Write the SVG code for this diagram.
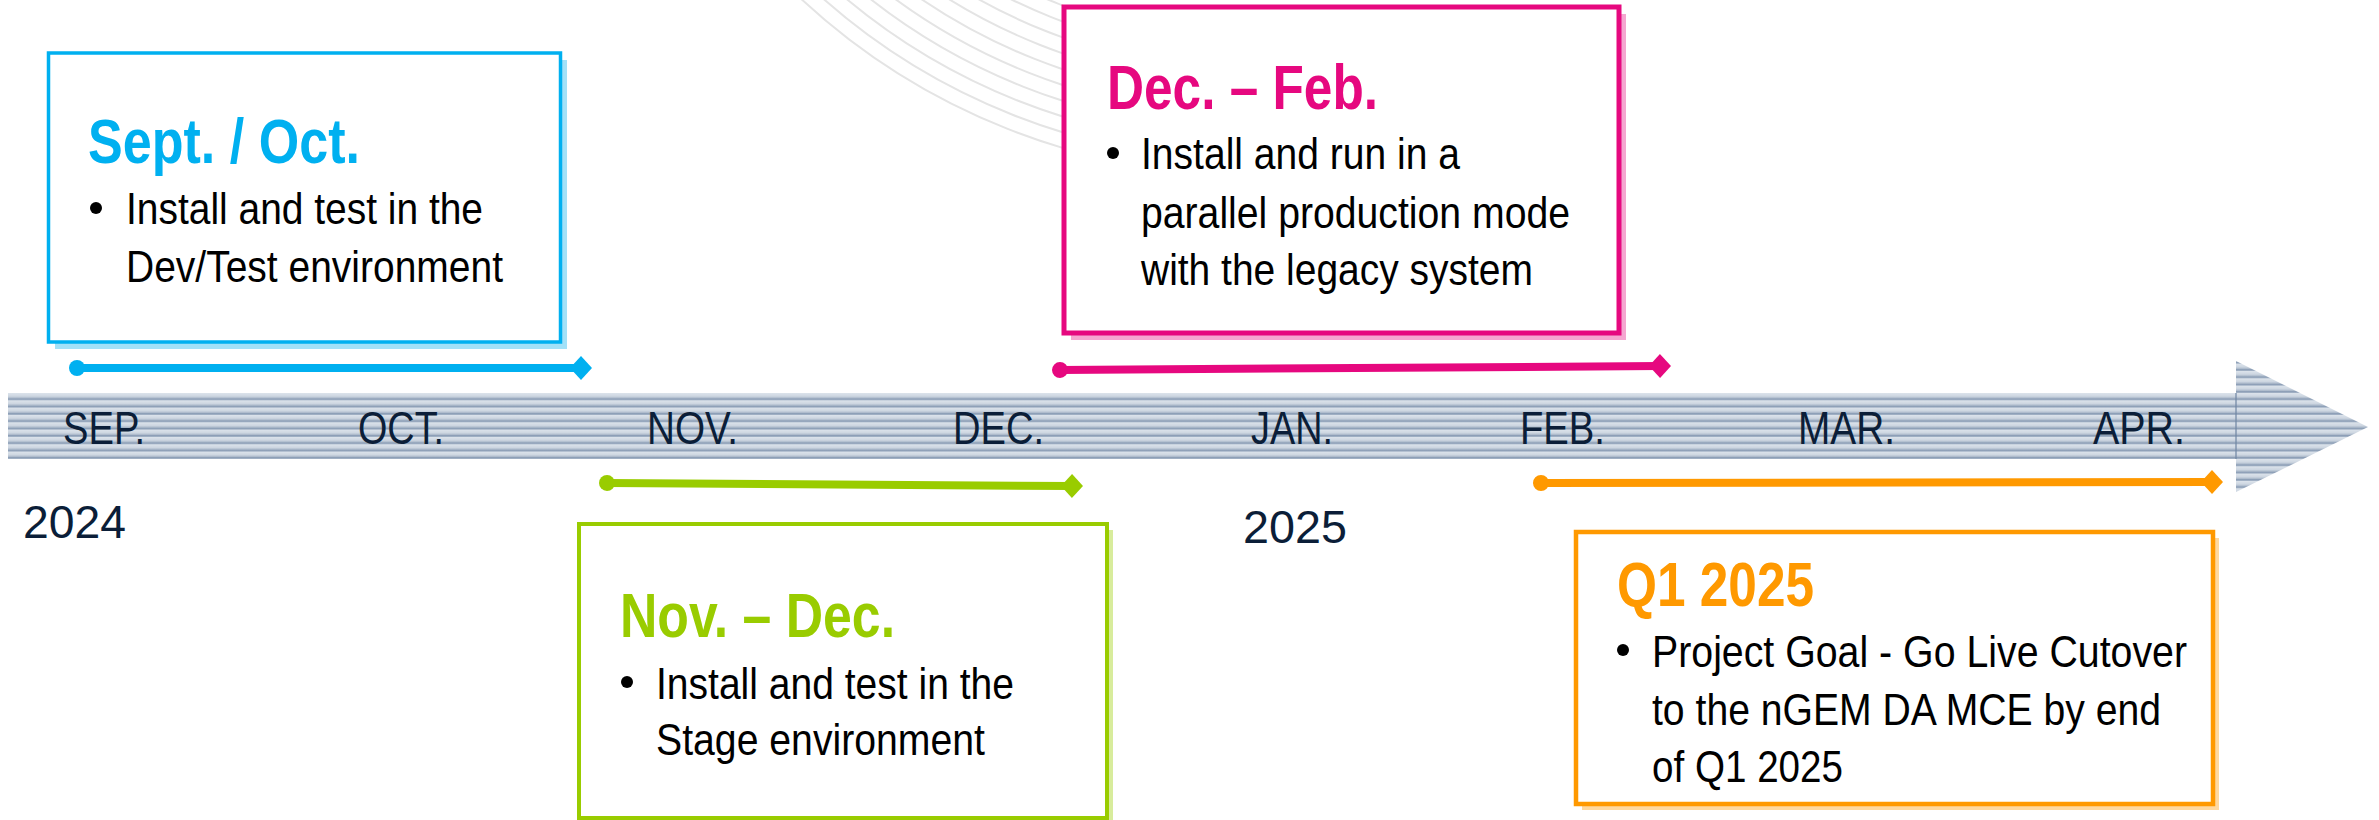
<svg xmlns="http://www.w3.org/2000/svg" width="2379" height="820" viewBox="0 0 2379 820">
<style>
  .title { font-family: "Liberation Sans", Arial, sans-serif; font-weight: bold; font-size: 63px; }
  .body { font-family: "Liberation Sans", Arial, sans-serif; font-size: 44px; fill: #000000; }
  .month { font-family: "Liberation Sans", Arial, sans-serif; font-size: 47px; fill: #0B1E38; }
  .year { font-family: "Liberation Sans", Arial, sans-serif; font-size: 47px; fill: #0B1E38; }
  .arc { fill: none; stroke: #E4E4E4; stroke-width: 2; }
  .range { fill: none; stroke-width: 8; }
</style>
<defs>
  <pattern id="stripes" patternUnits="userSpaceOnUse" x="0" y="393" width="20" height="7.33">
    <rect x="0" y="0" width="20" height="7.33" fill="url(#stripeGrad)"/>
  </pattern>
  <linearGradient id="stripeGrad" x1="0" y1="0" x2="0" y2="1">
    <stop offset="0" stop-color="#DCE3EB"/>
    <stop offset="0.45" stop-color="#CDD6E1"/>
    <stop offset="0.7" stop-color="#A9B7C9"/>
    <stop offset="0.85" stop-color="#7F93AE"/>
    <stop offset="1" stop-color="#B8C4D3"/>
  </linearGradient>
  <clipPath id="arcClip"><rect x="780" y="0" width="283" height="170"/></clipPath>
  <marker id="dotBlue" markerUnits="userSpaceOnUse" markerWidth="18" markerHeight="18" viewBox="-9 -9 18 18" refX="0" refY="0" orient="auto"><circle r="8" fill="#00B0F0"/></marker>
  <marker id="diaBlue" markerUnits="userSpaceOnUse" markerWidth="24" markerHeight="26" viewBox="-12 -13 24 26" refX="0" refY="0" orient="auto"><path d="M-11,0 L0,-12 L11,0 L0,12 Z" fill="#00B0F0"/></marker>
  <marker id="dotGreen" markerUnits="userSpaceOnUse" markerWidth="18" markerHeight="18" viewBox="-9 -9 18 18" refX="0" refY="0" orient="auto"><circle r="8" fill="#99CC00"/></marker>
  <marker id="diaGreen" markerUnits="userSpaceOnUse" markerWidth="24" markerHeight="26" viewBox="-12 -13 24 26" refX="0" refY="0" orient="auto"><path d="M-11,0 L0,-12 L11,0 L0,12 Z" fill="#99CC00"/></marker>
  <marker id="dotPink" markerUnits="userSpaceOnUse" markerWidth="18" markerHeight="18" viewBox="-9 -9 18 18" refX="0" refY="0" orient="auto"><circle r="8" fill="#E6087F"/></marker>
  <marker id="diaPink" markerUnits="userSpaceOnUse" markerWidth="24" markerHeight="26" viewBox="-12 -13 24 26" refX="0" refY="0" orient="auto"><path d="M-11,0 L0,-12 L11,0 L0,12 Z" fill="#E6087F"/></marker>
  <marker id="dotOrange" markerUnits="userSpaceOnUse" markerWidth="18" markerHeight="18" viewBox="-9 -9 18 18" refX="0" refY="0" orient="auto"><circle r="8" fill="#FF9900"/></marker>
  <marker id="diaOrange" markerUnits="userSpaceOnUse" markerWidth="24" markerHeight="26" viewBox="-12 -13 24 26" refX="0" refY="0" orient="auto"><path d="M-11,0 L0,-12 L11,0 L0,12 Z" fill="#FF9900"/></marker>
</defs>

<rect x="0" y="0" width="2379" height="820" fill="#FFFFFF"/>

<g id="background-arcs" clip-path="url(#arcClip)">
  <circle class="arc" cx="1250" cy="-485" r="660"/>
  <circle class="arc" cx="1250" cy="-485" r="645"/>
  <circle class="arc" cx="1250" cy="-485" r="630"/>
  <circle class="arc" cx="1250" cy="-485" r="615"/>
  <circle class="arc" cx="1250" cy="-485" r="600"/>
  <circle class="arc" cx="1250" cy="-485" r="585"/>
  <circle class="arc" cx="1250" cy="-485" r="570"/>
  <circle class="arc" cx="1250" cy="-485" r="555"/>
  <circle class="arc" cx="1250" cy="-485" r="540"/>
  <circle class="arc" cx="1250" cy="-485" r="525"/>
</g>

<g id="timeline-band">
  <rect x="8" y="393" width="2228" height="66" fill="url(#stripes)"/>
  <polygon points="2236,361 2368,427 2236,492" fill="url(#stripes)"/>
  <line x1="2236" y1="393" x2="2236" y2="459" stroke="#6F86A3" stroke-width="1.5" opacity="0.8"/>
</g>

<g id="months">
  <text class="month" x="63" y="444" textLength="82" lengthAdjust="spacingAndGlyphs">SEP.</text>
  <text class="month" x="358" y="444" textLength="86" lengthAdjust="spacingAndGlyphs">OCT.</text>
  <text class="month" x="647" y="444" textLength="91" lengthAdjust="spacingAndGlyphs">NOV.</text>
  <text class="month" x="953" y="444" textLength="91" lengthAdjust="spacingAndGlyphs">DEC.</text>
  <text class="month" x="1251" y="444" textLength="82" lengthAdjust="spacingAndGlyphs">JAN.</text>
  <text class="month" x="1520" y="444" textLength="85" lengthAdjust="spacingAndGlyphs">FEB.</text>
  <text class="month" x="1798" y="444" textLength="97" lengthAdjust="spacingAndGlyphs">MAR.</text>
  <text class="month" x="2093" y="444" textLength="92" lengthAdjust="spacingAndGlyphs">APR.</text>
</g>

<g id="years">
  <text class="year" x="23" y="538" textLength="103" lengthAdjust="spacingAndGlyphs">2024</text>
  <text class="year" x="1243" y="543" textLength="104" lengthAdjust="spacingAndGlyphs">2025</text>
</g>

<g id="connectors">
  <line class="range" x1="77" y1="368" x2="581" y2="368" stroke="#00B0F0" marker-start="url(#dotBlue)" marker-end="url(#diaBlue)"/>
  <line class="range" x1="607" y1="483" x2="1072" y2="486" stroke="#99CC00" marker-start="url(#dotGreen)" marker-end="url(#diaGreen)"/>
  <line class="range" x1="1060" y1="370" x2="1660" y2="366" stroke="#E6087F" marker-start="url(#dotPink)" marker-end="url(#diaPink)"/>
  <line class="range" x1="1541" y1="483" x2="2212" y2="482" stroke="#FF9900" marker-start="url(#dotOrange)" marker-end="url(#diaOrange)"/>
</g>

<g id="box-sept-oct">
  <rect x="55" y="60" width="512" height="289" fill="#A2E1F8"/>
  <rect x="48.5" y="53" width="512" height="289" fill="#FFFFFF" stroke="#00B0F0" stroke-width="3.5"/>
  <text class="title" x="88" y="163" fill="#00B0F0" textLength="272" lengthAdjust="spacingAndGlyphs">Sept. / Oct.</text>
  <circle cx="96" cy="208" r="6" fill="#000000"/>
  <text class="body" x="126" y="224" textLength="357" lengthAdjust="spacingAndGlyphs">Install and test in the</text>
  <text class="body" x="126" y="282" textLength="377" lengthAdjust="spacingAndGlyphs">Dev/Test environment</text>
</g>

<g id="box-nov-dec">
  <rect x="585" y="530" width="528" height="294" fill="#D8EC9C"/>
  <rect x="579" y="524" width="528" height="294" fill="#FFFFFF" stroke="#99CC00" stroke-width="4"/>
  <text class="title" x="620" y="637" fill="#99CC00" textLength="275" lengthAdjust="spacingAndGlyphs">Nov. – Dec.</text>
  <circle cx="627" cy="682" r="6" fill="#000000"/>
  <text class="body" x="656" y="699" textLength="358" lengthAdjust="spacingAndGlyphs">Install and test in the</text>
  <text class="body" x="656" y="755" textLength="329" lengthAdjust="spacingAndGlyphs">Stage environment</text>
</g>

<g id="box-dec-feb">
  <rect x="1071" y="14" width="555" height="326" fill="#F5A6D0"/>
  <rect x="1064" y="7" width="555" height="326" fill="#FFFFFF" stroke="#E6087F" stroke-width="5"/>
  <text class="title" x="1107" y="109" fill="#E6087F" textLength="271" lengthAdjust="spacingAndGlyphs">Dec. – Feb.</text>
  <circle cx="1113" cy="153" r="6" fill="#000000"/>
  <text class="body" x="1141" y="169" textLength="319" lengthAdjust="spacingAndGlyphs">Install and run in a</text>
  <text class="body" x="1141" y="228" textLength="429" lengthAdjust="spacingAndGlyphs">parallel production mode</text>
  <text class="body" x="1141" y="285" textLength="392" lengthAdjust="spacingAndGlyphs">with the legacy system</text>
</g>

<g id="box-q1-2025">
  <rect x="1582" y="538" width="637" height="272" fill="#FFD89E"/>
  <rect x="1576" y="532" width="637" height="272" fill="#FFFFFF" stroke="#FF9900" stroke-width="4.5"/>
  <text class="title" x="1617" y="606" fill="#FF9900" textLength="197" lengthAdjust="spacingAndGlyphs">Q1 2025</text>
  <circle cx="1623" cy="650" r="6" fill="#000000"/>
  <text class="body" x="1652" y="667" textLength="535" lengthAdjust="spacingAndGlyphs">Project Goal - Go Live Cutover</text>
  <text class="body" x="1652" y="725" textLength="509" lengthAdjust="spacingAndGlyphs">to the nGEM DA MCE by end</text>
  <text class="body" x="1652" y="782" textLength="191" lengthAdjust="spacingAndGlyphs">of Q1 2025</text>
</g>
</svg>
